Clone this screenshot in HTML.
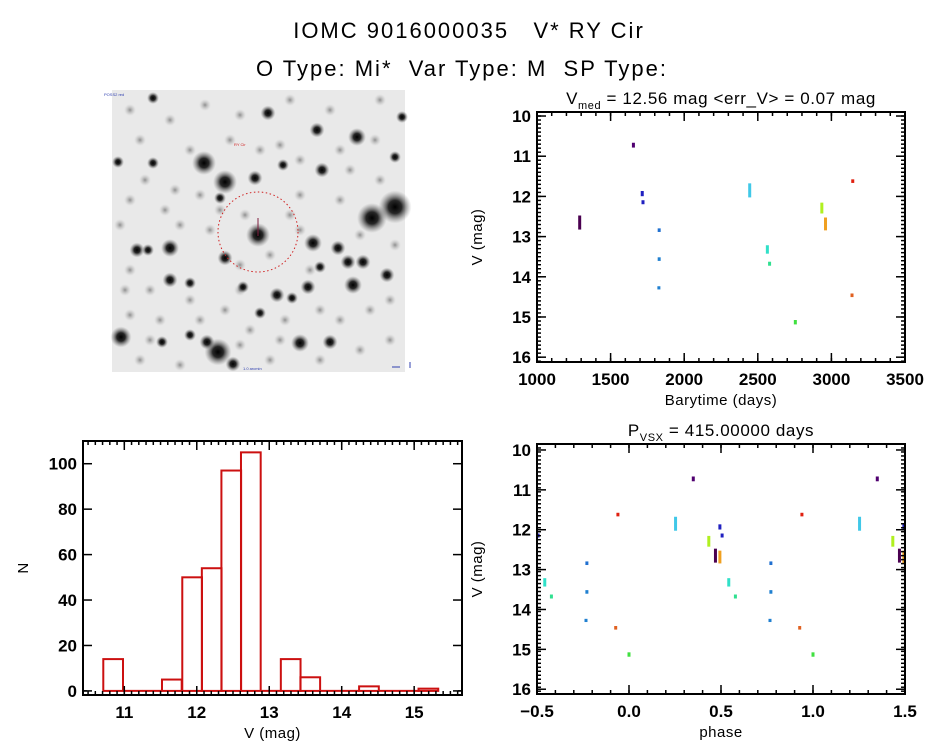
<!DOCTYPE html>
<html><head><meta charset="utf-8"><title>IOMC 9016000035 V* RY Cir</title>
<style>
html,body{margin:0;padding:0;background:#fff;}
svg{display:block;font-family:"Liberation Sans",sans-serif;}
.ttl{white-space:pre;}
</style></head>
<body>
<svg id="fig" width="944" height="747" viewBox="0 0 944 747" xmlns="http://www.w3.org/2000/svg">
<defs>
<radialGradient id="starg"><stop offset="0" stop-color="#000"/><stop offset="0.4" stop-color="#111" stop-opacity="0.9"/><stop offset="1" stop-color="#777" stop-opacity="0"/></radialGradient>
<radialGradient id="faintg"><stop offset="0" stop-color="#777" stop-opacity="0.8"/><stop offset="1" stop-color="#bbb" stop-opacity="0"/></radialGradient>
</defs>
<text class="ttl" x="469" y="38" text-anchor="middle" font-size="22" letter-spacing="2">IOMC 9016000035   V* RY Cir</text>
<text class="ttl" x="462" y="76" text-anchor="middle" font-size="22" letter-spacing="2">O Type: Mi*  Var Type: M  SP Type:</text>
<g id="img"></g>
<g id="lc"></g>
<g id="ph"></g>
<g id="hist"></g>
</svg>
<script>
// ---- light curve data ----
const lcTimes  = [1290, 1655, 1715, 1720, 1830, 1830, 1828, 2445, 2565, 2580, 2755, 2935, 2960, 3145, 3140];
const lcMagLo  = [12.50,10.69,11.89,12.12,12.82,13.54,14.26,11.70,13.24,13.65,15.10,12.18,12.55,11.60,14.44];
const lcMagHi  = [12.80,10.76,11.97,12.17,12.86,13.58,14.29,12.00,13.40,13.70,15.16,12.40,12.82,11.64,14.48];
const lcColors = ["#4a0050","#500070","#2020c0","#2020c0","#2070d0","#2080d0","#2080d0","#40c8e8","#30e0c8","#30e090","#40e040","#b0f020","#f0a020","#e02010","#e06020"];
const period = 415.0, epoch = 1095;
// ---- histogram data ----
const binStart = [10.71,10.98,11.25,11.52,11.80,12.07,12.34,12.61,12.88,13.16,13.43,13.70,13.97,14.24,14.52,14.79,15.06];
const binCount = [14,0,0,5,50,54,97,105,0,14,6,0,0,2,0,0,1];
const binWidth = 0.272;
const lcXTicks = [1000,1500,2000,2500,3000,3500];
const magTicks = [10,11,12,13,14,15,16];
const phTicks = [-0.5,0,0.5,1.0,1.5];
const phTickLabels = ["\u22120.5","0.0","0.5","1.0","1.5"];
const histXTicks = [11,12,13,14,15];
const histYTicks = [0,20,40,60,80,100];

const NS="http://www.w3.org/2000/svg";
function mk(parent, tag, attrs, text){
  const e=document.createElementNS(NS,tag);
  for(const k in attrs) e.setAttribute(k,attrs[k]);
  if(text!==undefined) e.textContent=text;
  parent.appendChild(e); return e;
}
function lin(d0,d1,r0,r1){return v=>r0+(v-d0)/(d1-d0)*(r1-r0);}

function axesBox(g, L,T,R,B, sx, sy, xt, xlab, yt, ylab, xMinor, yMinor, xr, yr, xTitle, yTitle){
  const box=mk(g,'rect',{x:L,y:T,width:R-L,height:B-T,fill:'none',stroke:'#000','stroke-width':2});
  
  
  for(let v=xr[0]; v<=xr[1]+1e-9; v+=xMinor){
    const x=sx(v); if(x<L-0.5||x>R+0.5) continue;
    mk(g,'line',{x1:x,y1:B,x2:x,y2:B-4,stroke:'#000','stroke-width':1.5});
    mk(g,'line',{x1:x,y1:T,x2:x,y2:T+4,stroke:'#000','stroke-width':1.5});
  }
  for(let v=yr[0]; v<=yr[1]+1e-9; v+=yMinor){
    const y=sy(v); if(y<T-0.5||y>B+0.5) continue;
    mk(g,'line',{x1:L,y1:y,x2:L+4,y2:y,stroke:'#000','stroke-width':1.5});
    mk(g,'line',{x1:R,y1:y,x2:R-4,y2:y,stroke:'#000','stroke-width':1.5});
  }
  xt.forEach((v,i)=>{
    const x=sx(v);
    mk(g,'line',{x1:x,y1:B,x2:x,y2:B-9,stroke:'#000','stroke-width':1.5});
    mk(g,'line',{x1:x,y1:T,x2:x,y2:T+9,stroke:'#000','stroke-width':1.5});
    const t=mk(g,'text',{x:x,y:B+23,'text-anchor':'middle','font-size':17,'font-weight':'bold'},xlab[i]);
    
    
  });
  yt.forEach((v,i)=>{
    const y=sy(v);
    mk(g,'line',{x1:L,y1:y,x2:L+9,y2:y,stroke:'#000','stroke-width':1.5});
    mk(g,'line',{x1:R,y1:y,x2:R-9,y2:y,stroke:'#000','stroke-width':1.5});
    const t=mk(g,'text',{x:L-6,y:y+6,'text-anchor':'end','font-size':17,'font-weight':'bold'},ylab[i]);
    
    
  });
  const xtl=mk(g,'text',{x:(L+R)/2,y:B+43,'text-anchor':'middle','font-size':15,'letter-spacing':0.5},xTitle);
  
  
  const yx=L-55, yy=(T+B)/2;
  const ytl=mk(g,'text',{x:yx,y:yy,'text-anchor':'middle','font-size':15,'letter-spacing':0.5,transform:`rotate(-90 ${yx} ${yy})`},yTitle);
  
  
}

// ---- finder image ----
(function(){
  const g=document.getElementById('img');
  mk(g,'rect',{x:112,y:90,width:293,height:282,fill:'#e9e9e9'});
  const faint=[[130,110],[170,120],[205,105],[240,115],[290,100],[330,110],[380,100],[140,140],[190,150],[230,140],[280,145],[340,150],[380,180],[130,200],[165,210],[200,195],[300,195],[340,200],[360,235],[120,225],[150,290],[190,300],[240,290],[320,310],[370,310],[130,315],[160,320],[250,330],[280,340],[340,320],[390,340],[140,360],[180,365],[270,360],[320,360],[390,300],[220,210],[290,215],[245,215],[270,255],[240,265],[210,230],[300,230],[395,245],[130,270],[180,225],[225,310],[145,180],[175,190],[260,150],[300,160],[350,170],[310,270],[285,320],[200,320],[150,340],[125,290],[360,350],[240,345],[375,140]];
  faint.forEach(p=>mk(g,'circle',{cx:p[0],cy:p[1],r:6,fill:'url(#faintg)'}));
  const stars=[[204,163,8],[225,182,8],[255,178,5],[258,235,8],[372,218,10],[395,207,11],[313,243,6],[170,248,6],[137,250,5],[148,250,4],[121,337,7],[218,352,9],[207,342,5],[300,343,6],[330,342,5],[353,285,6],[348,262,5],[363,262,5],[387,275,5],[322,170,5],[357,137,6],[317,130,5],[268,113,5],[153,98,4],[277,295,5],[260,313,4],[170,280,5],[338,248,5],[225,258,5],[233,364,5],[292,298,4],[308,287,5],[402,117,4],[395,157,4],[153,163,4],[118,162,4],[190,335,4],[162,342,4],[320,267,4],[243,287,4],[190,283,4],[283,165,4],[220,198,4]];
  stars.forEach(s=>mk(g,'circle',{cx:s[0],cy:s[1],r:s[2]*1.5,fill:'url(#starg)'}));
  const c=mk(g,'circle',{cx:258,cy:232,r:40,fill:'none',stroke:'#d02020','stroke-width':1,'stroke-dasharray':'1.5 2.5'});
  
  
  mk(g,'line',{x1:258,y1:218,x2:258,y2:236,stroke:'#802040','stroke-width':1});
  mk(g,'text',{x:234,y:146,'font-size':4,fill:'#d02020'},'RY Cir');
  mk(g,'text',{x:104,y:96,'font-size':4,fill:'#3040b0'},'POSS2 red');
  mk(g,'text',{x:243,y:370,'font-size':4,fill:'#3040b0'},'1.0 arcmin');
  mk(g,'line',{x1:392,y1:367,x2:400,y2:367,stroke:'#3040b0','stroke-width':1});
  mk(g,'line',{x1:410,y1:362,x2:410,y2:368,stroke:'#3040b0','stroke-width':1});
})();

// ---- light curve ----
(function(){
  const g=document.getElementById('lc');
  const L=537,R=905,T=112,B=362;
  const sx=lin(1000,3500,L,R), sy=lin(9.9,16.12,T,B);
  const t=mk(g,'text',{x:(L+R)/2,y:104,'text-anchor':'middle','font-size':17,'letter-spacing':0.6},'');
  t.innerHTML='V<tspan font-size="11" dy="5">med</tspan><tspan dy="-5"> = 12.56 mag &lt;err_V&gt; = 0.07 mag</tspan>';
  
  
  lcTimes.forEach((tt,i)=>{
    const y1=sy(lcMagLo[i]), y2=sy(lcMagHi[i]);
    const r=mk(g,'rect',{x:sx(tt)-1.5,y:y1-1,width:3,height:Math.max(2.5,y2-y1+2),fill:lcColors[i]});
    
    
  });
  axesBox(g,L,T,R,B,sx,sy,lcXTicks,lcXTicks.map(String),magTicks,magTicks.map(String),100,0.1,[1000,3500],[9.9,16.12],'Barytime (days)','V (mag)');
})();

// ---- phase plot ----
(function(){
  const g=document.getElementById('ph');
  const L=537,R=905,T=444,B=694;
  const sx=lin(-0.5,1.5,L,R), sy=lin(9.85,16.12,T,B);
  const t=mk(g,'text',{x:(L+R)/2,y:436,'text-anchor':'middle','font-size':17,'letter-spacing':0.6},'');
  t.innerHTML='P<tspan font-size="11" dy="5">VSX</tspan><tspan dy="-5"> = 415.00000 days</tspan>';
  
  
  lcTimes.forEach((tt,i)=>{
    let ph=((tt-epoch)/period)%1; if(ph<0) ph+=1;
    [-1,0,1].forEach(k=>{
      const p=ph+k; if(p<-0.5||p>1.5) return;
      const y1=sy(lcMagLo[i]), y2=sy(lcMagHi[i]);
      const r=mk(g,'rect',{x:sx(p)-1.5,y:y1-1,width:3,height:Math.max(2.5,y2-y1+2),fill:lcColors[i]});
      
      
    });
  });
  axesBox(g,L,T,R,B,sx,sy,phTicks,phTickLabels,magTicks,magTicks.map(String),0.1,0.1,[-0.5,1.5],[9.85,16.12],'phase','V (mag)');
})();

// ---- histogram ----
(function(){
  const g=document.getElementById('hist');
  const L=83,R=462,T=441,B=695;
  const sx=lin(10.43,15.66,L,R), sy=lin(-1.8,110,B,T);
  binStart.forEach((b,i)=>{
    const n=binCount[i];
    if(n===0){
      mk(g,'line',{x1:sx(b),y1:sy(0),x2:sx(b+binWidth),y2:sy(0),stroke:'#cc1010','stroke-width':2});
      return;
    }
    const r=mk(g,'rect',{x:sx(b),y:sy(n),width:sx(b+binWidth)-sx(b),height:sy(0)-sy(n),fill:'none',stroke:'#cc1010','stroke-width':2});
    
    
  });
  axesBox(g,L,T,R,B,sx,sy,histXTicks,histXTicks.map(String),histYTicks,histYTicks.map(String),0.1,1000,[10.5,15.6],[0,0],'V (mag)','N');
})();
</script>
</body></html>
